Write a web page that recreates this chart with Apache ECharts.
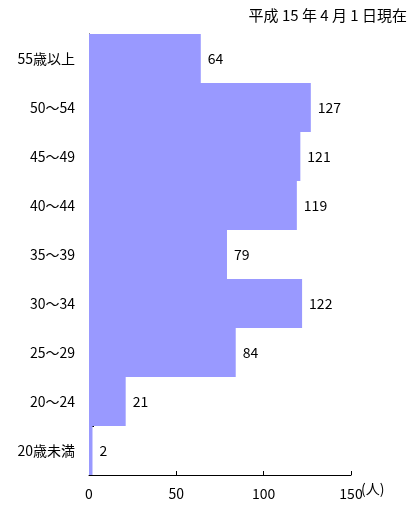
<!DOCTYPE html>
<html><head><meta charset="utf-8">
<script src="https://cdn.jsdelivr.net/npm/echarts@6/dist/echarts.min.js"></script>
<style>html,body{margin:0;padding:0;background:#fff}#c{width:414px;height:505px}</style>
</head><body><div id="c"></div>
<script>
const categories = ['55歳以上','50～54','45～49','40～44','35～39','30～34','25～29','20～24','20歳未満'];
const values = [64,127,121,119,79,122,84,21,2];
const xTicks = [0,50,100,150];
const titleText = '平成 15 年 4 月 1 日現在';
const unitText = '(人)';
const font = '"Noto Sans CJK JP", sans-serif';
const chart = echarts.init(document.getElementById('c'));
chart.setOption({
  animation:false,
  title:{text:titleText,right:2,top:3,textStyle:{fontSize:15,fontWeight:'normal',color:'#000',fontFamily:font}},
  grid:{left:89,right:63,top:34,bottom:30,containLabel:false},
  xAxis:{type:'value',min:xTicks[0],max:xTicks[xTicks.length-1],interval:50,
    name:unitText,nameLocation:'end',nameGap:10,nameMoveOverlap:false,
    nameTextStyle:{fontSize:14,color:'#000',fontFamily:font,verticalAlign:'top',padding:[7,0,0,0]},
    axisLine:{show:true,lineStyle:{color:'#000',width:1}},
    axisTick:{show:true,inside:true,length:4,lineStyle:{color:'#000'}},
    axisLabel:{fontSize:14,color:'#000',margin:12,fontFamily:font},
    splitLine:{show:false}},
  yAxis:{type:'category',data:categories,inverse:true,
    axisLine:{show:true,lineStyle:{color:'#000',width:1}},
    axisTick:{show:true,inside:true,length:5,lineStyle:{color:'#000'}},
    axisLabel:{fontSize:14,color:'#000',margin:14,fontFamily:font}},
  series:[{type:'bar',data:values,barCategoryGap:0,barWidth:'100%',
    itemStyle:{color:'#9999ff'},
    label:{show:true,position:'right',distance:7,fontSize:14,color:'#000',fontFamily:font}}]
});
</script></body></html>
